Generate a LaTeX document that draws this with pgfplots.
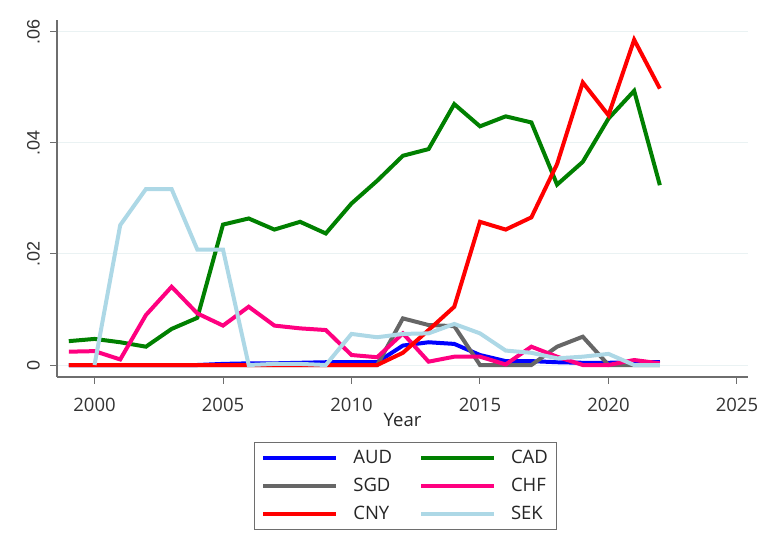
\documentclass[border=0pt]{standalone}
\usepackage{pgfplots}
\pgfplotsset{compat=1.18}
\usepackage{fontspec}
\setmainfont{Open Sans}
\newfontfamily\yfont{Liberation Sans}
\definecolor{cAUD}{RGB}{0,0,255}
\definecolor{cCAD}{RGB}{0,128,0}
\definecolor{cSGD}{RGB}{102,102,102}
\definecolor{cCHF}{RGB}{255,0,128}
\definecolor{cCNY}{RGB}{255,0,0}
\definecolor{cSEK}{RGB}{173,216,230}
\definecolor{gridc}{RGB}{234,242,243}
\definecolor{axc}{RGB}{110,110,110}
\begin{document}
\begin{tikzpicture}
\path[use as bounding box] (0pt,0pt) rectangle (768pt,559pt);
\begin{axis}[
  at={(57pt,182pt)}, anchor=south west,
  scale only axis, width=691pt, height=357pt,
  xmin=1998.54, xmax=2025.43,
  ymin=-0.00216, ymax=0.06216,
  scaled y ticks=false,
  axis lines*=left,
  axis line style={axc, line width=1.2pt, -},
  tick style={axc, line width=1pt},
  tick align=outside, major tick length=7pt,
  xtick={2000,2005,2010,2015,2020,2025},
  xticklabels={2000,2005,2010,2015,2020,2025},
  ytick={0,0.02,0.04,0.06},
  yticklabels={0,.02,.04,.06},
  ymajorgrids, grid style={gridc, line width=1pt},
  tick label style={font=\fontsize{18.5}{22}\selectfont, text=black!80},
  xticklabel style={inner sep=0pt},
  xticklabel shift=14pt,
  yticklabel style={font=\fontsize{18}{22}\selectfont\yfont, rotate=90, anchor=south, inner sep=0pt},
  yticklabel shift=10pt,
  xlabel={Year},
  xlabel style={at={(axis description cs:0.5,-0.1204)}, anchor=center, font=\fontsize{18.5}{22}\selectfont, text=black!85, inner sep=0pt},
  legend columns=2,
  legend style={at={(axis description cs:0.5045,-0.182)}, anchor=north,
    draw=axc, line width=1pt, font=\fontsize{18.5}{22}\selectfont, text=black!85,
    inner xsep=7pt, inner ysep=6pt, row sep=9pt,
    /tikz/every even column/.append style={column sep=25pt}},
  legend cell align=left,
  legend image code/.code={\draw[#1, line width=4pt] (0pt,0pt) -- (73pt,0pt); \path (86pt,0pt);},
  every axis plot/.append style={line width=4pt},
]
\addplot[cAUD] coordinates {
(1999,0)(2000,0)(2001,0)(2002,0)(2003,0)(2004,0)(2005,0.0002)(2006,0.0003)(2007,0.0003)(2008,0.0004)(2009,0.0005)(2010,0.0005)(2011,0.0005)
(2012,0.0035)(2013,0.0041)(2014,0.0038)(2015,0.0018)(2016,0.0007)(2017,0.0007)(2018,0.0005)(2019,0.0004)(2020,0.0004)(2021,0.0005)(2022,0.0005)};
\addlegendentry{AUD}
\addplot[cCAD] coordinates {
(1999,0.0043)(2000,0.0047)(2001,0.0041)(2002,0.0033)(2003,0.0065)(2004,0.0085)(2005,0.0253)(2006,0.0264)(2007,0.0244)(2008,0.0258)(2009,0.0237)(2010,0.0291)(2011,0.0332)
(2012,0.0377)(2013,0.0389)(2014,0.0470)(2015,0.0430)(2016,0.0448)(2017,0.0437)(2018,0.0325)(2019,0.0366)(2020,0.0444)(2021,0.0494)(2022,0.0324)};
\addlegendentry{CAD}
\addplot[cSGD] coordinates {
(1999,0)(2000,0)(2001,0)(2002,0)(2003,0)(2004,0)(2005,0)(2006,0)(2007,0)(2008,0)(2009,0)(2010,0)(2011,0)
(2012,0.0084)(2013,0.0072)(2014,0.0070)(2015,0)(2016,0)(2017,0)(2018,0.0033)(2019,0.0051)(2020,0)(2021,0)(2022,0)};
\addlegendentry{SGD}
\addplot[cCHF] coordinates {
(1999,0.0024)(2000,0.0025)(2001,0.0010)(2002,0.0090)(2003,0.0141)(2004,0.0093)(2005,0.0071)(2006,0.0105)(2007,0.0071)(2008,0.0066)(2009,0.0063)(2010,0.0018)(2011,0.0014)
(2012,0.0057)(2013,0.0006)(2014,0.0015)(2015,0.0015)(2016,0.0001)(2017,0.0033)(2018,0.0015)(2019,0)(2020,0)(2021,0.0009)(2022,0.0003)};
\addlegendentry{CHF}
\addplot[cCNY] coordinates {
(1999,0)(2000,0)(2001,0)(2002,0)(2003,0)(2004,0)(2005,0)(2006,0)(2007,0)(2008,0)(2009,0)(2010,0)(2011,0)
(2012,0.0022)(2013,0.0063)(2014,0.0105)(2015,0.0258)(2016,0.0244)(2017,0.0266)(2018,0.0362)(2019,0.0509)(2020,0.0450)(2021,0.0586)(2022,0.0498)};
\addlegendentry{CNY}
\addplot[cSEK] coordinates {
(2000,0)(2001,0.0252)(2002,0.0317)(2003,0.0317)(2004,0.0208)(2005,0.0208)(2006,0)(2007,0.0002)(2008,0.0002)(2009,0)(2010,0.0056)(2011,0.0050)
(2012,0.0056)(2013,0.0057)(2014,0.0074)(2015,0.0057)(2016,0.0026)(2017,0.0022)(2018,0.0012)(2019,0.0015)(2020,0.0020)(2021,0)(2022,0)};
\addlegendentry{SEK}
\end{axis}
\end{tikzpicture}
\end{document}
